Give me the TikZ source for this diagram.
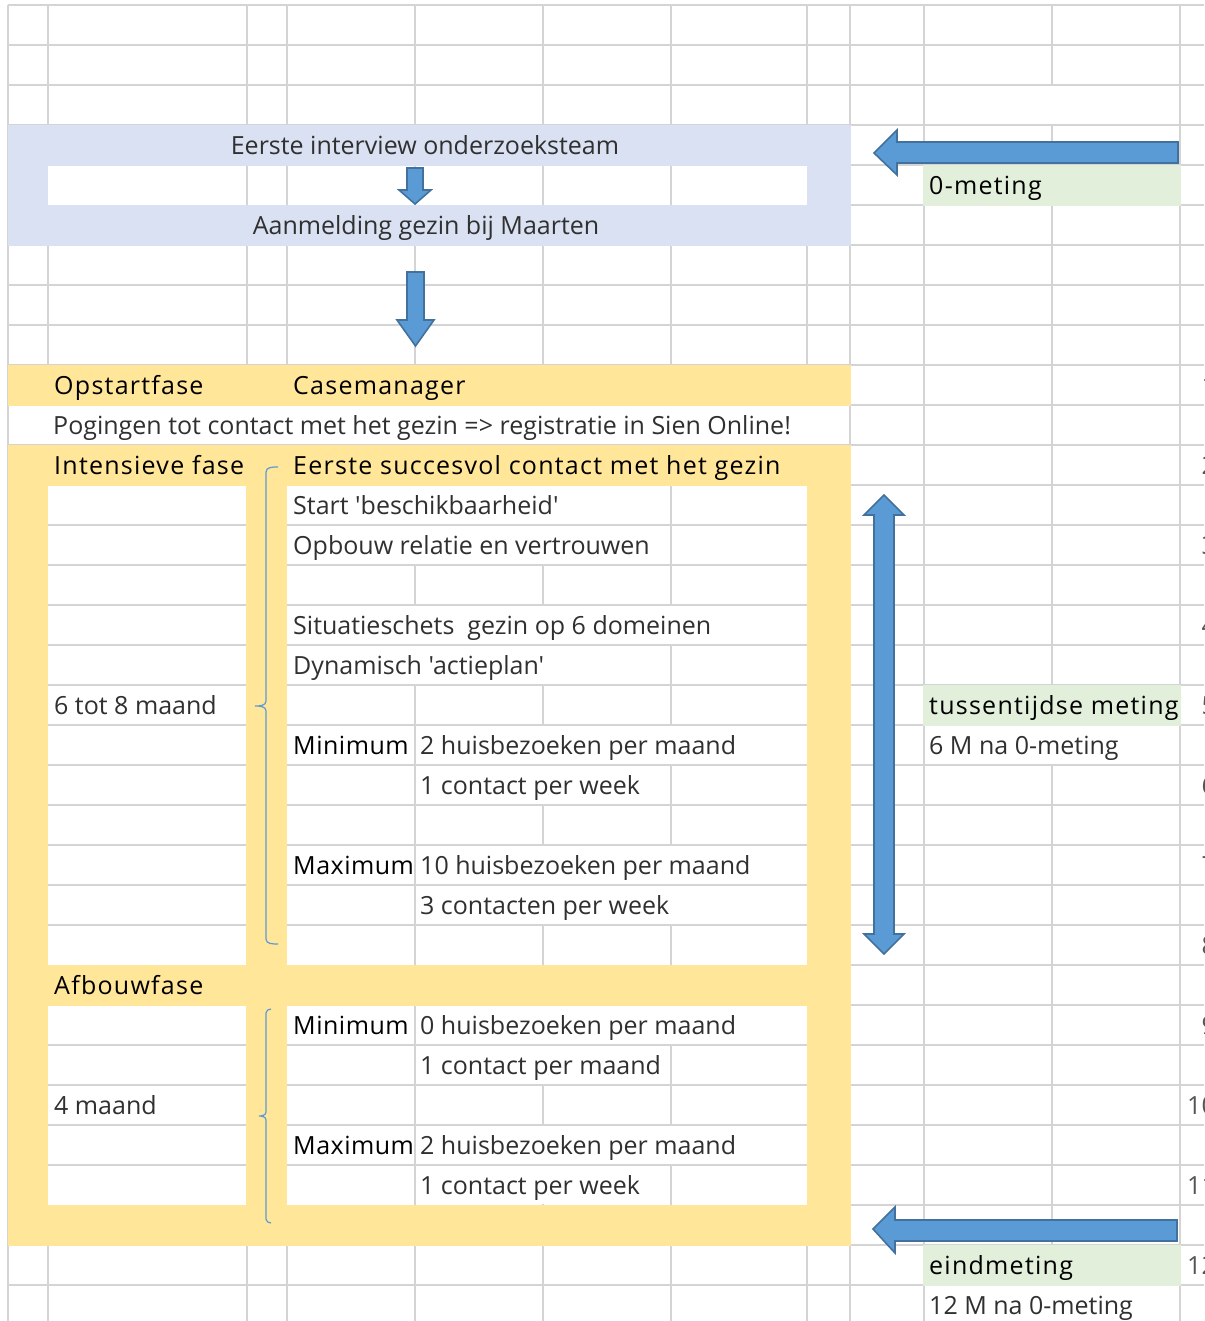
\documentclass[tikz,border=0pt]{standalone}
\usepackage{fontspec}
\newfontfamily\osf{Open Sans}
\newfontfamily\osfh{Open Sans}[LetterSpace=5]
\newfontfamily\osfm{Open Sans}[LetterSpace=2]
\definecolor{gridc}{HTML}{D4D4D4}
\definecolor{bluebg}{HTML}{D9E1F2}
\definecolor{yel}{HTML}{FFE699}
\definecolor{grn}{HTML}{E2EFDA}
\definecolor{arrf}{HTML}{5B9BD5}
\definecolor{arrd}{HTML}{41719C}
\definecolor{lightc}{HTML}{303030}
\definecolor{numc}{HTML}{555555}
\begin{document}
\begin{tikzpicture}[x=1pt,y=-1pt,
  grid/.style={draw=gridc, line width=1.4pt},
  lt/.style={anchor=base west, inner sep=0pt, font=\osf\fontsize{25}{30}\selectfont, text=lightc},
  ltc/.style={anchor=base, inner sep=0pt, font=\osf\fontsize{25}{30}\selectfont, text=lightc},
  hd/.style={anchor=base west, inner sep=0pt, font=\osfh\fontsize{25}{30}\selectfont, text=black},
  hdm/.style={anchor=base west, inner sep=0pt, font=\osfm\fontsize{25}{30}\selectfont, text=black},
  num/.style={anchor=base east, inner sep=0pt, font=\osf\fontsize{25}{30}\selectfont, text=numc},
  arr/.style={fill=arrf, draw=arrd, line width=1.6pt, line join=miter},
  br/.style={draw=arrf, line width=1.2pt},
  wo/.style={fill=white}]
\useasboundingbox (0,0) rectangle (1204,1321);
\clip (0,0) rectangle (1204,1321);
\fill[white] (0,0) rectangle (1204,1321);
% ---------- full grid ----------
\foreach \x in {8,48,247,287,415,543,671,807,850,924,1052,1180}
  \draw[grid] (\x,5) -- (\x,1321);
\foreach \y in {5,45,...,1285}
  \draw[grid] (8,\y) -- (1204,\y);
% merged / overflow cells on the right
\fill[wo] (925,86) rectangle (1179,124);
\fill[wo] (925,726) rectangle (1179,764);
\fill[wo] (925,1286) rectangle (1179,1321);
% ---------- blue block ----------
\fill[bluebg] (8,125) rectangle (851,246);
\fill[white] (48,166) rectangle (807,205);
\foreach \x in {247,287,415,543,671}
  \draw[grid] (\x,166) -- (\x,205);
% ---------- yellow blocks ----------
\fill[yel] (8,365) rectangle (851,406);
\fill[wo] (9,406) rectangle (849,444);
\fill[yel] (8,445) rectangle (851,1246);
% white boxes
\fill[white] (48,486) rectangle (246,965);
\fill[white] (287,486) rectangle (807,965);
\fill[white] (48,1006) rectangle (246,1205);
\fill[white] (287,1006) rectangle (807,1205);
\foreach \y in {525,565,...,925} {
  \draw[grid] (48,\y) -- (246,\y);
  \draw[grid] (287,\y) -- (807,\y);
}
\foreach \y in {1045,1085,...,1165} {
  \draw[grid] (48,\y) -- (246,\y);
  \draw[grid] (287,\y) -- (807,\y);
}
\foreach \x in {415,543,671} {
  \draw[grid] (\x,486) -- (\x,965);
  \draw[grid] (\x,1006) -- (\x,1205);
}
% overflow white-outs in the right box
\fill[wo] (288,486) rectangle (670,524);
\fill[wo] (288,526) rectangle (670,564);
\fill[wo] (288,606) rectangle (806,644);
\fill[wo] (288,646) rectangle (670,684);
\fill[wo] (416,726) rectangle (806,764);
\fill[wo] (416,766) rectangle (670,804);
\fill[wo] (416,846) rectangle (806,884);
\fill[wo] (416,886) rectangle (806,924);
\fill[wo] (416,1006) rectangle (806,1044);
\fill[wo] (416,1046) rectangle (670,1084);
\fill[wo] (416,1126) rectangle (806,1164);
\fill[wo] (416,1166) rectangle (670,1204);
% ---------- green cells ----------
\fill[grn] (923,165) rectangle (1181,206);
\fill[grn] (923,685) rectangle (1181,726);
\fill[grn] (923,1245) rectangle (1181,1286);
% ---------- brackets ----------
\draw[br] (278,467) to[out=180,in=90] (266,472) -- (266,701)
          to[out=-90,in=0] (255,706) to[out=0,in=90] (266,711)
          -- (266,939) to[out=-90,in=180] (278,944);
\draw[br] (271,1009) to[out=180,in=90] (266,1013) -- (266,1112)
          to[out=-90,in=0] (259,1116) to[out=0,in=90] (266,1120)
          -- (266,1219) to[out=-90,in=180] (271,1223);
% ---------- texts ----------
\node[ltc] (t1) at (425,154.5) {Eerste interview onderzoeksteam};
\node[ltc] (t2) at (426,234.5) {Aanmelding gezin bij Maarten};
\node[hd] (t3) at (54,394.5) {Opstartfase};
\node[hd] (t4) at (293,394.5) {Casemanager};
\node[lt] (t5) at (53,434.5) {Pogingen tot contact met het gezin => registratie in Sien Online!};
\node[hd] (t6) at (54,474.5) {Intensieve fase};
\node[hd] (t7) at (293,474.5) {Eerste succesvol contact met het gezin};
\node[lt] (t8) at (293,514.5) {Start 'beschikbaarheid'};
\node[lt] (t9) at (293,554.5) {Opbouw relatie en vertrouwen};
\node[lt] (t10) at (293,634.5) {Situatieschets~ gezin op 6 domeinen};
\node[lt] (t11) at (293,674.5) {Dynamisch 'actieplan'};
\node[lt] (t12) at (54,714.5) {6 tot 8 maand};
\node[hdm] (t13) at (293,754.5) {Minimum};
\node[lt] (t14) at (420,754.5) {2 huisbezoeken per maand};
\node[lt] (t15) at (420,794.5) {1 contact per week};
\node[hdm] (t16) at (293,874.5) {Maximum};
\node[lt] (t17) at (420,874.5) {10 huisbezoeken per maand};
\node[lt] (t18) at (420,914.5) {3 contacten per week};
\node[hd] (t19) at (54,994.5) {Afbouwfase};
\node[hdm] (t20) at (293,1034.5) {Minimum};
\node[lt] (t21) at (420,1034.5) {0 huisbezoeken per maand};
\node[lt] (t22) at (420,1074.5) {1 contact per maand};
\node[lt] (t23) at (54,1114.5) {4 maand};
\node[hdm] (t24) at (293,1154.5) {Maximum};
\node[lt] (t25) at (420,1154.5) {2 huisbezoeken per maand};
\node[lt] (t26) at (420,1194.5) {1 contact per week};
\node[hd] (t27) at (929,194.5) {0-meting};
\node[hd] (t28) at (929,714.5) {tussentijdse meting};
\node[lt] (t29) at (929,754.5) {6 M na 0-meting};
\node[hd] (t30) at (929,1274.5) {eindmeting};
\node[lt] (t31) at (929,1314.5) {12 M na 0-meting};
% row numbers at the right edge (cut off by the picture's edge, as in the reference)
\foreach \n/\y in {1/365,2/445,3/525,4/605,5/685,6/765,7/845,8/925,9/1005,10/1085,11/1165,12/1245}
  \node[num] (n\n) at (1216,\y+29.5) {\n};
% ---------- arrows ----------
\draw[arr] (407,168) -- (423,168) -- (423,190) -- (431,190) -- (415,204)
           -- (399,190) -- (407,190) -- cycle;
\draw[arr] (407,272) -- (424,272) -- (424,320) -- (434,320) -- (415.5,346)
           -- (397,320) -- (407,320) -- cycle;
\draw[arr] (1178,142) -- (1178,163) -- (897,163) -- (897,175) -- (874,153)
           -- (897,130) -- (897,142) -- cycle;
\draw[arr] (1177,1220) -- (1177,1241) -- (895,1241) -- (895,1253) -- (873,1229)
           -- (895,1207) -- (895,1220) -- cycle;
\draw[arr] (874,515) -- (864,515) -- (884,495) -- (904,515) -- (894,515)
           -- (894,934) -- (904,934) -- (884,954) -- (864,934) -- (874,934) -- cycle;
\end{tikzpicture}
\end{document}
